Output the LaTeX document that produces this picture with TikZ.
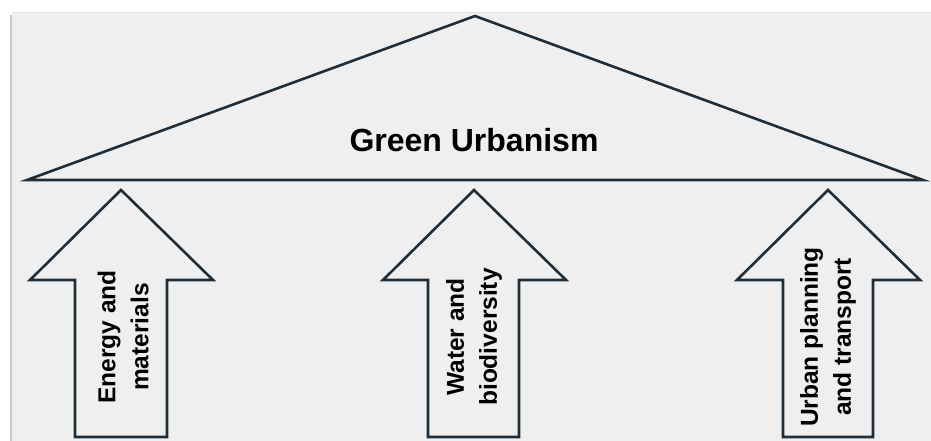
\documentclass[tikz,border=0pt]{standalone}
\usepackage{fontspec}
\setmainfont{Liberation Sans}
\definecolor{panel}{HTML}{EFEFEF}
\definecolor{ink}{HTML}{1E2D38}
\definecolor{edge}{HTML}{C8C8C8}
\tikzset{
  shapeline/.style={draw=ink, line width=2.6pt, line join=miter, fill=panel},
  title/.style={font=\fontsize{32}{36}\selectfont\bfseries, text=black, inner sep=0pt},
  pillar/.style={font=\fontsize{24.5}{33}\selectfont\bfseries, text=black, rotate=90, align=center, inner sep=0pt}
}
\begin{document}
\begin{tikzpicture}[x=1pt,y=-1pt]
\useasboundingbox (0,0) rectangle (931,441);
\fill[white] (0,0) rectangle (931,441);
% panel with faint edge shadow
\fill[panel] (12,13) rectangle (931,441);
\draw[edge, line width=2.5pt] (11,15) -- (11,441);
\draw[edge!50, line width=1pt] (13,13) -- (931,13);
% roof
\draw[shapeline] (475,16) -- (923,180) -- (27,180) -- cycle;
\draw[black!6, line width=5pt] (60,188) -- (900,188);
\node[title, anchor=base] (roof) at (474,151) {Green Urbanism};
% pillars
\draw[shapeline] (121,190) -- (213,280) -- (167,280) -- (167,437) -- (75,437) -- (75,280) -- (30,280) -- cycle;
\draw[shapeline] (474,190) -- (566,280) -- (519,280) -- (519,437) -- (428,437) -- (428,280) -- (383,280) -- cycle;
\draw[shapeline] (828,190) -- (920,280) -- (873,280) -- (873,437) -- (783,437) -- (783,280) -- (737,280) -- cycle;
\node[pillar] (p1) at (123,337) {Energy and\\materials};
\node[pillar] (p2) at (474,337) {Water and\\biodiversity};
\node[pillar] (p3) at (828,337) {Urban planning\\and transport};
\end{tikzpicture}
\end{document}
